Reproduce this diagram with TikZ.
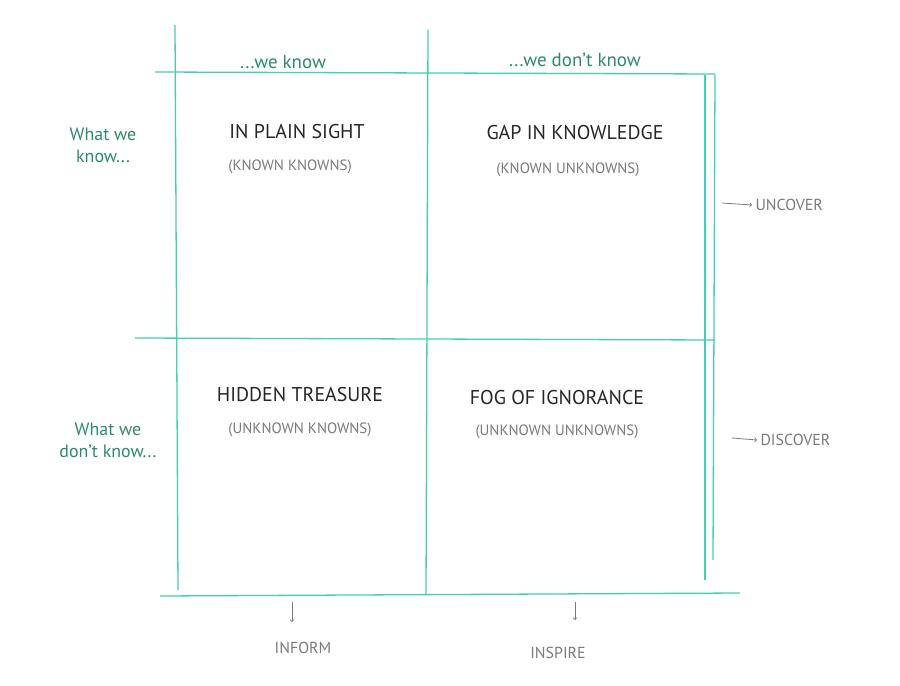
\documentclass[tikz,border=0pt]{standalone}
\usepackage{fontspec}
\setmainfont{PT Sans}
\definecolor{teal1}{HTML}{45CFAF}
\definecolor{gtxt}{HTML}{2E8A68}
\definecolor{gray1}{HTML}{7A7A7A}
\begin{document}
\begin{tikzpicture}[x=0.0352778cm,y=-0.0352778cm,
  gline/.style={teal1,line width=1.3pt},
  head/.style={gtxt,font=\fontsize{19}{20}\selectfont,align=center},
  side/.style={gtxt,font=\fontsize{18}{22}\selectfont,align=center},
  title/.style={black!85,font=\fontsize{20}{21}\selectfont},
  sub/.style={gray1,font=\fontsize{15}{16}\selectfont},
  act/.style={gray1,font=\fontsize{16}{17}\selectfont},
  arr/.style={gray1,line width=0.8pt,->}]
\useasboundingbox (0,0) rectangle (900,686);
\fill[white] (0,0) rectangle (900,686);
% grid
\draw[gline] (155,72) -- (715,74);
\draw[gline] (135,338) -- (715,340);
\draw[gline] (160,596) -- (740,593);
\draw[gline] (175,25) -- (178,590);
\draw[gline] (428,30) -- (426,595);
\draw[gline] (705,75) -- (705,580);
\draw[gline] (715,75) -- (713,560);
% headings
\node[head] (h1) at (283,62) {...we know};
\node[head] (h2) at (575,60) {...we don't know};
\node[side] (s1) at (103,145) {What we\\know...};
\node[side] (s2) at (108,440) {What we\\don't know...};
% quadrants
\node[title] (q1) at (297,132) {IN PLAIN SIGHT};
\node[sub] (q1s) at (290,167) {(KNOWN KNOWNS)};
\node[title] (q2) at (575,133) {GAP IN KNOWLEDGE};
\node[sub] (q2s) at (568,170) {(KNOWN UNKNOWNS)};
\node[title] (q3) at (300,395) {HIDDEN TREASURE};
\node[sub] (q3s) at (300,430) {(UNKNOWN KNOWNS)};
\node[title] (q4) at (557,398) {FOG OF IGNORANCE};
\node[sub] (q4s) at (557,432) {(UNKNOWN UNKNOWNS)};
% actions
\node[act,anchor=west] (a1) at (752,205) {UNCOVER};
\coordinate (a1s) at (722,203);
\draw[arr] (a1s) -- (a1.west);
\node[act,anchor=west] (a2) at (757,440) {DISCOVER};
\coordinate (a2s) at (732,438);
\draw[arr] (a2s) -- (a2.west);
\node[act] (a3) at (303,648) {INFORM};
\coordinate (a3s) at (292,602);
\coordinate (a3e) at (292,622);
\draw[arr] (a3s) -- (a3e);
\node[act] (a4) at (558,653) {INSPIRE};
\coordinate (a4s) at (575,602);
\coordinate (a4e) at (575,620);
\draw[arr] (a4s) -- (a4e);
\end{tikzpicture}
\end{document}
